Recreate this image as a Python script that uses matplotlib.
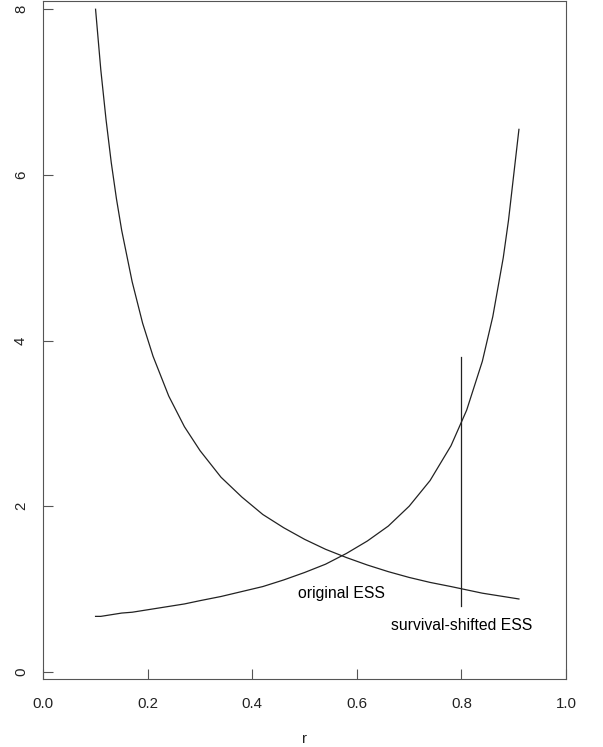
import matplotlib
matplotlib.use("Agg")
import matplotlib.pyplot as plt

plt.rcParams["font.family"] = ["Liberation Sans", "DejaVu Sans"]

# values
r = [0.10, 0.11, 0.12, 0.13, 0.14, 0.15, 0.17, 0.19, 0.21, 0.24, 0.27,
     0.30, 0.34, 0.38, 0.42, 0.46, 0.50, 0.54, 0.58, 0.62, 0.66, 0.70,
     0.74, 0.78, 0.81, 0.84, 0.86, 0.88, 0.89, 0.90, 0.91]
falling = [8.00, 7.27, 6.67, 6.15, 5.71, 5.33, 4.71, 4.21, 3.81, 3.33, 2.96,
           2.67, 2.35, 2.11, 1.90, 1.74, 1.60, 1.48, 1.38, 1.29, 1.21, 1.14,
           1.08, 1.03, 0.99, 0.95, 0.93, 0.91, 0.90, 0.89, 0.88]
rising = [0.67, 0.67, 0.68, 0.69, 0.70, 0.71, 0.72, 0.74, 0.76, 0.79, 0.82,
          0.86, 0.91, 0.97, 1.03, 1.11, 1.20, 1.30, 1.43, 1.58, 1.76, 2.00,
          2.31, 2.73, 3.16, 3.75, 4.29, 5.00, 5.45, 6.00, 6.55]

shift_r = 0.8
shift_y = [0.8, 3.8]

xticks = [0.0, 0.2, 0.4, 0.6, 0.8, 1.0]
yticks = [0, 2, 4, 6, 8]

fig = plt.figure(figsize=(6.03, 7.47), dpi=100)
ax = fig.add_axes([0.0718, 0.0906, 0.8668, 0.9081])

ink = "#222222"
ax.plot(r, falling, color=ink, lw=0.9)
ax.plot(r, rising, color=ink, lw=0.9)
ax.plot([shift_r, shift_r], shift_y, color=ink, lw=0.9)

ax.text(0.57, 0.95, "original ESS", ha="center", va="center", fontsize=11.3)
ax.text(0.8, 0.56, "survival-shifted ESS", ha="center", va="center",
        fontsize=11.3)

ax.set_xlim(0, 1.0)
ax.set_ylim(-0.09, 8.1)
ax.set_xticks(xticks, [f"{v:.1f}" for v in xticks])
ax.set_yticks(yticks, [str(v) for v in yticks])
ax.tick_params(direction="in", length=7, width=0.8, color="#555555",
               labelsize=10.8, labelcolor=ink)
ax.tick_params(axis="x", pad=13)
ax.tick_params(axis="y", pad=11)
for lbl in ax.get_yticklabels():
    lbl.set_rotation(90)
    lbl.set_va("center")
for s in ax.spines.values():
    s.set_color("#555555")
    s.set_linewidth(0.8)

ax.set_xlabel("r", fontsize=10.8, labelpad=15, color=ink)

fig.savefig("out.png", dpi=100)
